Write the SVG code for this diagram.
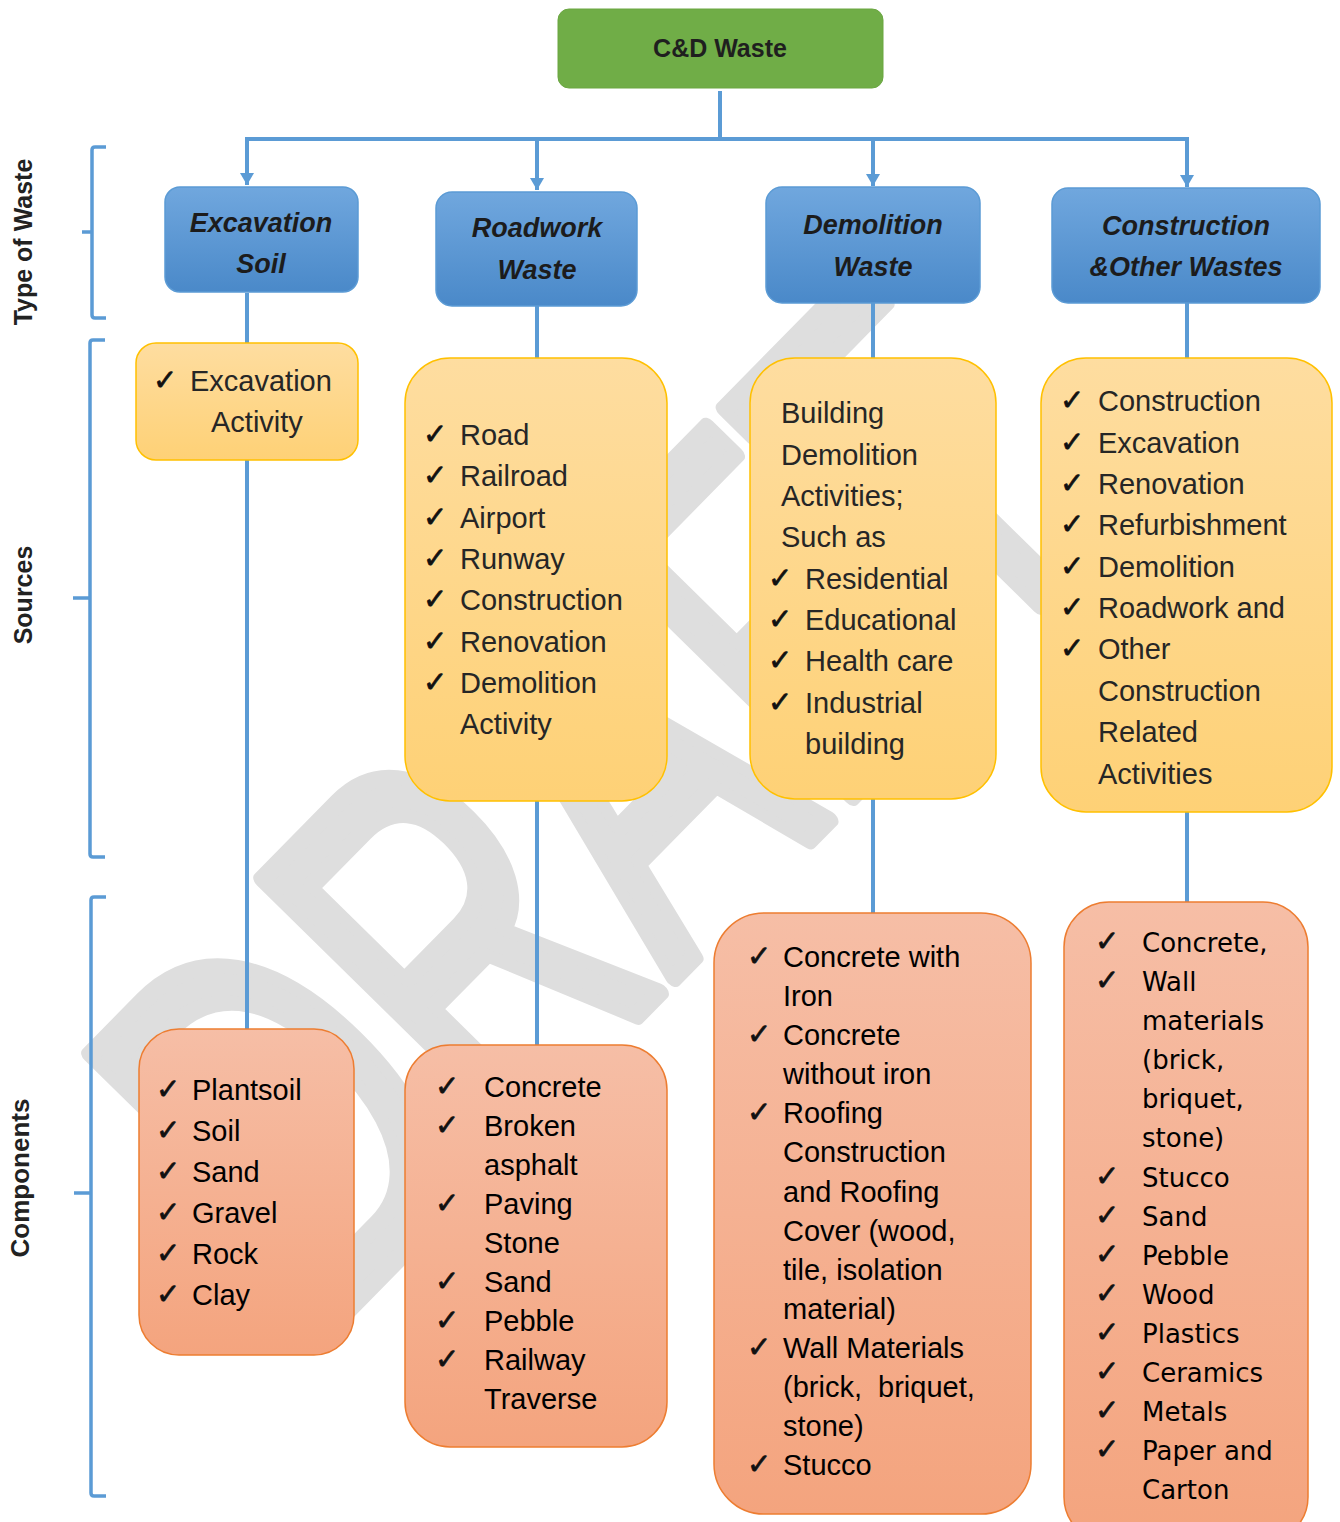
<svg xmlns="http://www.w3.org/2000/svg" width="1340" height="1522" viewBox="0 0 1340 1522">
<style>
.wm{font-family:"Liberation Sans",Arial,sans-serif;fill:#dedede;stroke:#dedede;stroke-width:12;stroke-linejoin:round}
.con{stroke:#5b9bd5;stroke-width:4;fill:none}
.brk{stroke:#5b9bd5;stroke-width:3.5;fill:none}
.side{font-family:"Liberation Sans",Arial,sans-serif;font-weight:bold;fill:#222;text-anchor:middle}
.green{fill:#70ad47;stroke:#6aa641;stroke-width:1}
.gt{font-family:"Liberation Sans",Arial,sans-serif;font-weight:bold;font-size:25px;fill:#1f1f1f;text-anchor:middle}
.blue{fill:url(#gb);stroke:#5b9bd5;stroke-width:1.5}
.bt{font-family:"Liberation Sans",Arial,sans-serif;font-weight:bold;font-style:italic;font-size:27px;fill:#1c1c1c;text-anchor:middle}
.yel{fill:url(#gy);stroke:#ffc000;stroke-width:1.5}
.org{fill:url(#go);stroke:#ed7d31;stroke-width:1.5}
.st{font-family:"Liberation Sans",Arial,sans-serif;font-size:29px;fill:#262626}
.ct{font-family:"Liberation Sans",Arial,sans-serif;font-size:29px;fill:#000}
.dt{font-family:"DejaVu Sans",Verdana,sans-serif;font-size:26px;fill:#000}
.ck{font-family:"DejaVu Sans",sans-serif;font-size:29px;fill:#111;stroke:#111;stroke-width:0.7}
</style>
<defs>
<linearGradient id="gb" x1="0" y1="0" x2="0" y2="1"><stop offset="0" stop-color="#70a7de"/><stop offset="1" stop-color="#4a89c9"/></linearGradient>
<linearGradient id="gy" x1="0" y1="0" x2="0" y2="1"><stop offset="0" stop-color="#feddA0"/><stop offset="1" stop-color="#fed176"/></linearGradient>
<linearGradient id="go" x1="0" y1="0" x2="0" y2="1"><stop offset="0" stop-color="#f6bea6"/><stop offset="1" stop-color="#f4a47e"/></linearGradient>
<marker id="ad" markerUnits="userSpaceOnUse" markerWidth="16" markerHeight="14" refX="8" refY="13" orient="0" viewBox="0 0 16 14">
<path d="M1,1 L15,1 L8,13 Z" fill="#5b9bd5"/>
</marker>
</defs>

<g id="watermark">
<text class="wm" font-size="340" transform="translate(328,1330) rotate(-45.5) scale(1,1.55)">DRAFT</text>
</g>

<g id="brackets">
<path class="brk" d="M106,147 H95 Q92,147 92,150 V315 Q92,318 95,318 H106 M92,232 H82"/>
<path class="brk" d="M105,340 H93 Q90,340 90,343 V854 Q90,857 93,857 H105 M90,598 H73"/>
<path class="brk" d="M106,897 H94 Q91,897 91,900 V1493 Q91,1496 94,1496 H106 M91,1193 H74"/>
<text class="side" font-size="25" transform="translate(32,242) rotate(-90)">Type of Waste</text>
<text class="side" font-size="25" transform="translate(32,595) rotate(-90)">Sources</text>
<text class="side" font-size="26" transform="translate(29,1178) rotate(-90)">Components</text>
</g>

<g id="connectors">
<path class="con" d="M720,91 V139"/>
<path class="con" d="M245,139 H1189"/>
<path class="con" d="M247,139 V185" marker-end="url(#ad)"/>
<path class="con" d="M537,139 V190" marker-end="url(#ad)"/>
<path class="con" d="M873,139 V186" marker-end="url(#ad)"/>
<path class="con" d="M1187,139 V187" marker-end="url(#ad)"/>
<path class="con" d="M247,293 V1030"/>
<path class="con" d="M537,306 V1046"/>
<path class="con" d="M873,303 V914"/>
<path class="con" d="M1187,303 V903"/>
</g>

<g id="cd-waste">
<rect class="green" x="558" y="9" width="325" height="79" rx="11"/>
<text class="gt" x="720" y="57">C&amp;D Waste</text>
</g>

<g id="excavation-soil">
<rect class="blue" x="165" y="187" width="193" height="105" rx="15"/>
<text class="bt" x="261" y="232">Excavation</text>
<text class="bt" x="261" y="273">Soil</text>
</g>
<g id="roadwork-waste">
<rect class="blue" x="436" y="192" width="201" height="114" rx="16"/>
<text class="bt" x="537" y="237">Roadwork</text>
<text class="bt" x="537" y="279">Waste</text>
</g>
<g id="demolition-waste">
<rect class="blue" x="766" y="187" width="214" height="116" rx="16"/>
<text class="bt" x="873" y="234">Demolition</text>
<text class="bt" x="873" y="276">Waste</text>
</g>
<g id="construction-waste">
<rect class="blue" x="1052" y="188" width="268" height="115" rx="16"/>
<text class="bt" x="1186" y="235">Construction</text>
<text class="bt" x="1186" y="276">&amp;Other Wastes</text>
</g>

<g id="src-excavation">
<rect class="yel" x="136" y="343" width="222" height="117" rx="20"/>
<text class="ck" x="153" y="390">✓</text>
<text class="st" x="190" y="391">Excavation</text>
<text class="st" x="211" y="432">Activity</text>
</g>

<g id="src-roadwork">
<rect class="yel" x="405" y="358" width="262" height="443" rx="45"/>
<text class="ck" x="423" y="444">✓</text><text class="st" x="460" y="445">Road</text>
<text class="ck" x="423" y="485">✓</text><text class="st" x="460" y="486">Railroad</text>
<text class="ck" x="423" y="527">✓</text><text class="st" x="460" y="528">Airport</text>
<text class="ck" x="423" y="568">✓</text><text class="st" x="460" y="569">Runway</text>
<text class="ck" x="423" y="609">✓</text><text class="st" x="460" y="610">Construction</text>
<text class="ck" x="423" y="651">✓</text><text class="st" x="460" y="652">Renovation</text>
<text class="ck" x="423" y="692">✓</text><text class="st" x="460" y="693">Demolition</text>
<text class="st" x="460" y="734">Activity</text>
</g>

<g id="src-demolition">
<rect class="yel" x="750" y="358" width="246" height="441" rx="45"/>
<text class="st" x="781" y="423">Building</text>
<text class="st" x="781" y="465">Demolition</text>
<text class="st" x="781" y="506">Activities;</text>
<text class="st" x="781" y="547">Such as</text>
<text class="ck" x="768" y="588">✓</text><text class="st" x="805" y="589">Residential</text>
<text class="ck" x="768" y="629">✓</text><text class="st" x="805" y="630">Educational</text>
<text class="ck" x="768" y="670">✓</text><text class="st" x="805" y="671">Health care</text>
<text class="ck" x="768" y="712">✓</text><text class="st" x="805" y="713">Industrial</text>
<text class="st" x="805" y="754">building</text>
</g>

<g id="src-construction">
<rect class="yel" x="1041" y="358" width="291" height="454" rx="45"/>
<text class="ck" x="1060" y="410">✓</text><text class="st" x="1098" y="411">Construction</text>
<text class="ck" x="1060" y="452">✓</text><text class="st" x="1098" y="453">Excavation</text>
<text class="ck" x="1060" y="493">✓</text><text class="st" x="1098" y="494">Renovation</text>
<text class="ck" x="1060" y="534">✓</text><text class="st" x="1098" y="535">Refurbishment</text>
<text class="ck" x="1060" y="576">✓</text><text class="st" x="1098" y="577">Demolition</text>
<text class="ck" x="1060" y="617">✓</text><text class="st" x="1098" y="618">Roadwork and</text>
<text class="ck" x="1060" y="658">✓</text><text class="st" x="1098" y="659">Other</text>
<text class="st" x="1098" y="701">Construction</text>
<text class="st" x="1098" y="742">Related</text>
<text class="st" x="1098" y="784">Activities</text>
</g>

<g id="cmp-excavation">
<rect class="org" x="139" y="1029" width="215" height="326" rx="40"/>
<text class="ck" x="156" y="1099">✓</text><text class="ct" x="192" y="1100">Plantsoil</text>
<text class="ck" x="156" y="1140">✓</text><text class="ct" x="192" y="1141">Soil</text>
<text class="ck" x="156" y="1181">✓</text><text class="ct" x="192" y="1182">Sand</text>
<text class="ck" x="156" y="1222">✓</text><text class="ct" x="192" y="1223">Gravel</text>
<text class="ck" x="156" y="1263">✓</text><text class="ct" x="192" y="1264">Rock</text>
<text class="ck" x="156" y="1304">✓</text><text class="ct" x="192" y="1305">Clay</text>
</g>

<g id="cmp-roadwork">
<rect class="org" x="405" y="1045" width="262" height="402" rx="45"/>
<text class="ck" x="435" y="1096">✓</text><text class="ct" x="484" y="1097">Concrete</text>
<text class="ck" x="435" y="1135">✓</text><text class="ct" x="484" y="1136">Broken</text>
<text class="ct" x="484" y="1175">asphalt</text>
<text class="ck" x="435" y="1213">✓</text><text class="ct" x="484" y="1214">Paving</text>
<text class="ct" x="484" y="1253">Stone</text>
<text class="ck" x="435" y="1291">✓</text><text class="ct" x="484" y="1292">Sand</text>
<text class="ck" x="435" y="1330">✓</text><text class="ct" x="484" y="1331">Pebble</text>
<text class="ck" x="435" y="1369">✓</text><text class="ct" x="484" y="1370">Railway</text>
<text class="ct" x="484" y="1409">Traverse</text>
</g>

<g id="cmp-demolition">
<rect class="org" x="714" y="913" width="317" height="601" rx="50"/>
<text class="ck" x="747" y="966">✓</text><text class="ct" x="783" y="967">Concrete with</text>
<text class="ct" x="783" y="1006">Iron</text>
<text class="ck" x="747" y="1044">✓</text><text class="ct" x="783" y="1045">Concrete</text>
<text class="ct" x="783" y="1084">without iron</text>
<text class="ck" x="747" y="1122">✓</text><text class="ct" x="783" y="1123">Roofing</text>
<text class="ct" x="783" y="1162">Construction</text>
<text class="ct" x="783" y="1202">and Roofing</text>
<text class="ct" x="783" y="1241">Cover (wood,</text>
<text class="ct" x="783" y="1280">tile, isolation</text>
<text class="ct" x="783" y="1319">material)</text>
<text class="ck" x="747" y="1357">✓</text><text class="ct" x="783" y="1358">Wall Materials</text>
<text class="ct" x="783" y="1397" style="white-space:pre">(brick,  briquet,</text>
<text class="ct" x="783" y="1436">stone)</text>
<text class="ck" x="747" y="1474">✓</text><text class="ct" x="783" y="1475">Stucco</text>
</g>

<g id="cmp-construction">
<rect class="org" x="1064" y="902" width="244" height="640" rx="45"/>
<text class="ck" x="1095" y="951">✓</text><text class="dt" x="1142" y="952">Concrete,</text>
<text class="ck" x="1095" y="990">✓</text><text class="dt" x="1142" y="991">Wall</text>
<text class="dt" x="1142" y="1030">materials</text>
<text class="dt" x="1142" y="1069">(brick,</text>
<text class="dt" x="1142" y="1108">briquet,</text>
<text class="dt" x="1142" y="1147">stone)</text>
<text class="ck" x="1095" y="1186">✓</text><text class="dt" x="1142" y="1187">Stucco</text>
<text class="ck" x="1095" y="1225">✓</text><text class="dt" x="1142" y="1226">Sand</text>
<text class="ck" x="1095" y="1264">✓</text><text class="dt" x="1142" y="1265">Pebble</text>
<text class="ck" x="1095" y="1303">✓</text><text class="dt" x="1142" y="1304">Wood</text>
<text class="ck" x="1095" y="1342">✓</text><text class="dt" x="1142" y="1343">Plastics</text>
<text class="ck" x="1095" y="1381">✓</text><text class="dt" x="1142" y="1382">Ceramics</text>
<text class="ck" x="1095" y="1420">✓</text><text class="dt" x="1142" y="1421">Metals</text>
<text class="ck" x="1095" y="1459">✓</text><text class="dt" x="1142" y="1460">Paper and</text>
<text class="dt" x="1142" y="1499">Carton</text>
</g>
</svg>
